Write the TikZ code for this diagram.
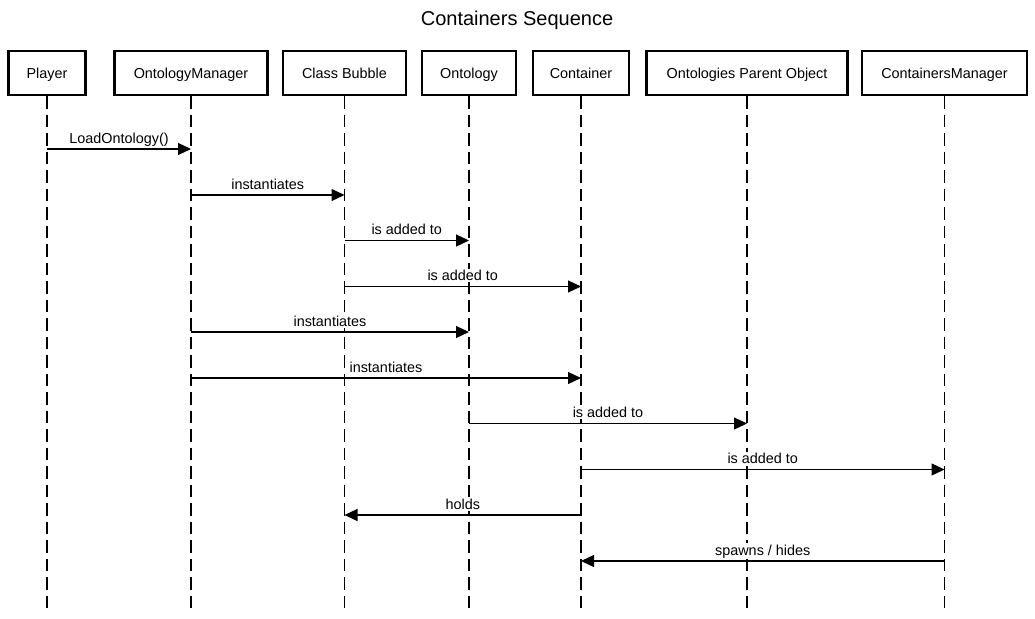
\documentclass[tikz,border=0pt]{standalone}
\usepackage{fontspec}
\setmainfont{Liberation Sans}
\usetikzlibrary{arrows.meta,positioning}

\tikzset{
    object/.style={draw, line width=2.4pt, minimum height=44pt, inner sep=0pt,
        text height=10.3pt, text depth=0pt, font=\fontsize{14.4}{17}\selectfont},
    lifeline/.style={dash pattern=on 12.5pt off 6pt, line width=1.2pt},
    message/.style={-{Triangle[length=13pt,width=12pt]}, line width=1.2pt},
    msglabel/.style={anchor=base, yshift=6pt, fill=white, inner sep=1.5pt,
        font=\fontsize{14.4}{17}\selectfont}
}

\begin{document}
\begin{tikzpicture}[x=1pt,y=-1pt]
    \useasboundingbox (0,0) rectangle (1035,618);
    \node[anchor=base, font=\fontsize{20}{24}\selectfont] (title) at (517,26) {Containers Sequence};

    % objects
    \node[object, minimum width=77pt] (player) at (47,73) {Player};
    \node[object, minimum width=153pt] (om) at (191,73) {OntologyManager};
    \node[object, minimum width=123pt] (cb) at (344.5,73) {Class Bubble};
    \node[object, minimum width=94pt] (ont) at (469,73) {Ontology};
    \node[object, minimum width=96pt] (cont) at (581,73) {Container};
    \node[object, minimum width=201pt] (opo) at (747,73) {Ontologies Parent Object};
    \node[object, minimum width=165pt] (cm) at (944.5,73) {ContainersManager};

    % lifelines
    \coordinate (bottom) at (0,613);
    \draw[lifeline] (player) -- (player |- bottom);
    \draw[lifeline] (om) -- (om |- bottom);
    \draw[lifeline] (cb) -- (cb |- bottom);
    \draw[lifeline] (ont) -- (ont |- bottom);
    \draw[lifeline] (cont) -- (cont |- bottom);
    \draw[lifeline] (opo) -- (opo |- bottom);
    \draw[lifeline] (cm) -- (cm |- bottom);

    % message heights
    \coordinate (m1) at (0,149);
    \coordinate (m2) at (0,195);
    \coordinate (m3) at (0,240.5);
    \coordinate (m4) at (0,286.5);
    \coordinate (m5) at (0,332);
    \coordinate (m6) at (0,378);
    \coordinate (m7) at (0,423.5);
    \coordinate (m8) at (0,469.5);
    \coordinate (m9) at (0,515);
    \coordinate (m10) at (0,561);

    \path[message]
        (player |- m1) edge node[msglabel] {LoadOntology()} (om |- m1)
        (om |- m2) edge node[msglabel] {instantiates} (cb |- m2)
        (cb |- m3) edge node[msglabel] {is added to} (ont |- m3)
        (cb |- m4) edge node[msglabel] {is added to} (cont |- m4)
        (om |- m5) edge node[msglabel] {instantiates} (ont |- m5)
        (om |- m6) edge node[msglabel] {instantiates} (cont |- m6)
        (ont |- m7) edge node[msglabel] {is added to} (opo |- m7)
        (cont |- m8) edge node[msglabel] {is added to} (cm |- m8)
        (cont |- m9) edge node[msglabel] {holds} (cb |- m9)
        (cm |- m10) edge node[msglabel] {spawns / hides} (cont |- m10);
\end{tikzpicture}
\end{document}
